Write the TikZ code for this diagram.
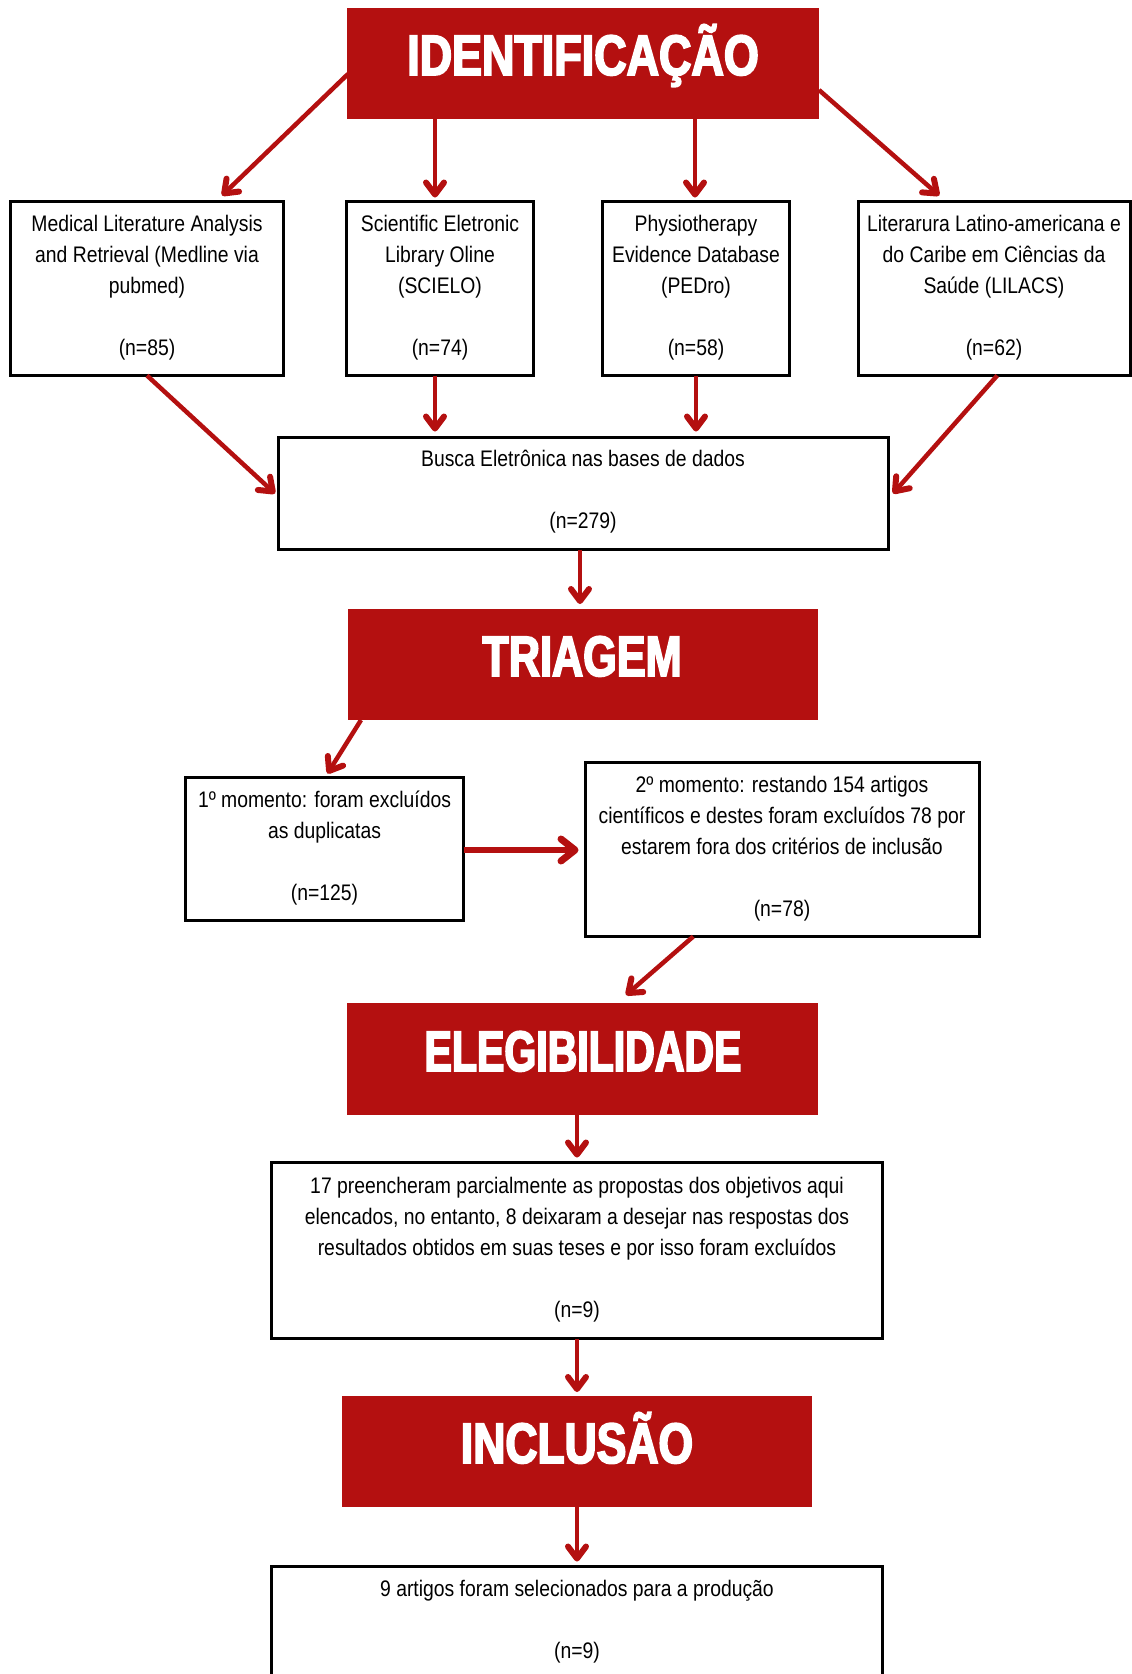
\documentclass[tikz,border=0pt]{standalone}
\usepackage{fontspec}
\setmainfont{Liberation Sans}[FakeStretch=0.86]
\newfontfamily\headfont{Liberation Sans}[FakeStretch=0.75,FakeBold=3]
\usetikzlibrary{arrows.meta,calc}
\definecolor{redbox}{RGB}{180,16,16}
\newcommand\fl{\rule{0pt}{18pt}}
\begin{document}
\begin{tikzpicture}[x=1pt,y=-1pt,
  box/.style={draw=black, line width=3pt, fill=white, inner sep=0pt, outer sep=0pt},
  head/.style={fill=redbox, inner sep=0pt, outer sep=0pt, minimum height=111pt},
  headtxt/.style={anchor=base, text=white, inner sep=0pt, font=\headfont\bfseries\fontsize{57}{57}\selectfont},
  txt/.style={anchor=north, align=center, inner sep=0pt, font=\fontsize{22.5}{31}\selectfont},
  arr/.style={draw=redbox, line width=4.5pt, -{Straight Barb[length=12pt,width=18pt,round,line width=6pt]}},
  arrthick/.style={draw=redbox, line width=6pt, -{Straight Barb[length=14pt,width=22pt,round,line width=7pt]}},
]
\useasboundingbox (0,0) rectangle (1132,1674);
\clip (0,0) rectangle (1132,1674);

% headings
\node[head, minimum width=472pt] (h1) at (583,63.5) {};
\node[headtxt] (h1t) at (583,75) {\scalebox{1.05}[1]{IDENTIFICAÇÃO}};
\node[head, minimum width=470pt] (h2) at (583,664.5) {};
\node[headtxt] (h2t) at (582,676) {\scalebox{1.01}[1]{TRIAGEM}};
\node[head, minimum width=471pt, minimum height=112pt] (h3) at (582.5,1059) {};
\node[headtxt] (h3t) at (583,1071) {\scalebox{0.96}[1]{ELEGIBILIDADE}};
\node[head, minimum width=470pt] (h4) at (577,1451.5) {};
\node[headtxt] (h4t) at (577,1463) {\scalebox{1.04}[1]{INCLUSÃO}};

% source boxes
\node[box, minimum width=273pt, minimum height=174pt] (b1) at (147,288.5) {};
\node[box, minimum width=187pt, minimum height=174pt] (b2) at (440,288.5) {};
\node[box, minimum width=187pt, minimum height=174pt] (b3) at (696,288.5) {};
\node[box, minimum width=271.5pt, minimum height=174pt] (b4) at (994.25,288.5) {};
\node[txt] (b1t) at (147,213) {\fl Medical Literature Analysis\\and Retrieval (Medline via\\pubmed)\\[31pt](n=85)};
\node[txt] (b2t) at (440,213) {\fl Scientific Eletronic\\Library Oline\\(SCIELO)\\[31pt](n=74)};
\node[txt] (b3t) at (696,213) {\fl Physiotherapy\\Evidence Database\\(PEDro)\\[31pt](n=58)};
\node[txt] (b4t) at (994,213) {\fl Literarura Latino-americana e\\do Caribe em Ciências da\\Saúde (LILACS)\\[31pt](n=62)};

% search box
\node[box, minimum width=610pt, minimum height=112pt] (bb) at (583,493.5) {};
\node[txt] (bbt) at (583,448) {\fl Busca Eletrônica nas bases de dados\\[31pt](n=279)};

% screening boxes
\node[box, minimum width=278pt, minimum height=143pt] (m1) at (324.5,849) {};
\node[txt] (m1t) at (324.5,789) {\fl 1º momento: foram excluídos\\as duplicatas\\[31pt](n=125)};
\node[box, minimum width=393.5pt, minimum height=174pt] (m2) at (782.25,849.5) {};
\node[txt] (m2t) at (782,774) {\fl 2º momento: restando 154 artigos\\científicos e destes foram excluídos 78 por\\estarem fora dos critérios de inclusão\\[31pt](n=78)};

% eligibility box
\node[box, minimum width=611pt, minimum height=176pt] (e1) at (577,1250.5) {};
\node[txt] (e1t) at (577,1175) {\fl 17 preencheram parcialmente as propostas dos objetivos aqui\\elencados, no entanto, 8 deixaram a desejar nas respostas dos\\resultados obtidos em suas teses e por isso foram excluídos\\[31pt](n=9)};

% final box
\node[box, minimum width=611pt, minimum height=200pt] (f1) at (577,1666.5) {};
\node[txt] (f1t) at (577,1578) {\fl 9 artigos foram selecionados para a produção\\[31pt](n=9)};

% arrows
\draw[arr] ($(h1.west)+(1,10.5)$) -- ($(b1.north)+(75,-6)$);
\draw[arr] ($(h1.south)+(-148,0)$) -- ($(b2.north)+(-5,-4)$);
\draw[arr] ($(h1.south)+(112,0)$) -- ($(b3.north)+(-1,-4)$);
\draw[arr] ($(h1.east)+(0,26.5)$) -- ($(b4.north)+(-55,-6)$);

\draw[arr] (b1.south) -- ($(bb.west)+(-3,0)$);
\draw[arr] ($(b2.south)+(-5,0)$) -- ($(bb.north)+(-148,-6)$);
\draw[arr] (b3.south) -- ($(bb.north)+(113,-6)$);
\draw[arr] ($(b4.south)+(3,0)$) -- ($(bb.east)+(5,0)$);

\draw[arr] ($(bb.south)+(-3,0)$) -- ($(h2.north)+(-3,-5)$);
\draw[arr] ($(h2.south)+(-222,0)$) -- ($(m1.north)+(3,-4)$);
\draw[arrthick] ($(m1.east)+(0,1)$) -- ($(m2.west)+(-7,0.5)$);
\draw[arr] ($(m2.south)+(-89,0)$) -- ($(h3.north)+(43.5,-8)$);
\draw[arr] ($(h3.south)+(-5.5,0)$) -- ($(e1.north)+(0,-5)$);
\draw[arr] (e1.south) -- ($(h4.north)+(0,-4)$);
\draw[arr] (h4.south) -- ($(f1.north)+(0,-5)$);
\end{tikzpicture}
\end{document}
